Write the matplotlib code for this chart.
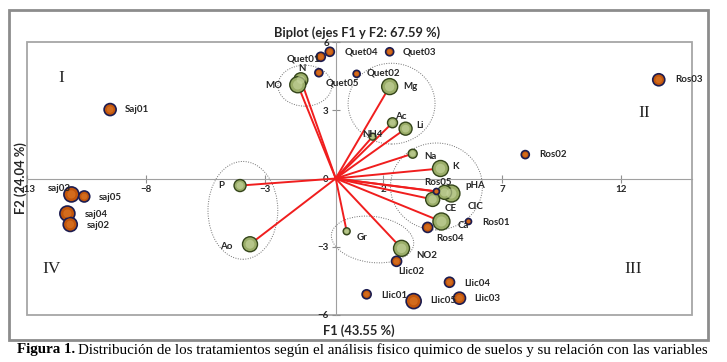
import numpy as np
import matplotlib
matplotlib.use("Agg")
import matplotlib.pyplot as plt
from matplotlib.patches import Ellipse, Rectangle

# observations (treatments)
obs_names = ['Saj01', 'saj03', 'saj05', 'saj04', 'saj02',
             'Quet01', 'Quet04', 'Quet03', 'Quet05', 'Quet02',
             'Ros03', 'Ros02', 'Ros05', 'Ros01', 'Ros04',
             'Llic02', 'Llic01', 'Llic05', 'Llic04', 'Llic03']
obs_f1 = [-9.50, -11.13, -10.59, -11.30, -11.18,
          -0.63, -0.25, 2.27, -0.71, 0.88,
          13.60, 7.98, 4.24, 5.59, 3.87,
          2.56, 1.30, 3.28, 4.79, 5.21]
obs_f2 = [3.03, -0.70, -0.79, -1.54, -2.02,
          5.35, 5.57, 5.57, 4.65, 4.60,
          4.34, 1.05, -0.57, -1.89, -2.15,
          -3.64, -5.09, -5.39, -4.56, -5.26]

# variables
var_names = ['N', 'MO', 'Mg', 'Ac', 'Li', 'NH4', 'Na', 'K',
             'pHA', 'CIC', 'CE', 'Ca', 'P', 'Ao', 'Gr', 'NO2']
var_f1 = [-1.47, -1.60, 2.27, 2.39, 2.94, 1.55, 3.24, 4.41,
          4.87, 4.58, 4.08, 4.45, -4.03, -3.61, 0.46, 2.77]
var_f2 = [4.34, 4.12, 4.04, 2.45, 2.19, 1.84, 1.09, 0.44,
          -0.66, -0.61, -0.92, -1.89, -0.31, -2.89, -2.32, -3.07]

x_ticks = [-13, -8, -3, 2, 7, 12]
y_ticks = [-6, -3, 0, 3, 6]

# marker diameters (px)
obs_d = [12, 15, 11, 15, 14, 9, 9, 8, 8, 7, 12, 8, 6, 6, 10, 10, 9, 15, 10, 12]
var_d = [14, 16, 16, 10, 13, 7, 9, 16, 17, 14, 14, 17, 12, 15, 7, 16]

# label offsets (px)
obs_off = {'Saj01': (15, 0), 'saj03': (-24, 6), 'saj05': (15, -1), 'saj04': (17, -1),
           'saj02': (17, -1), 'Quet01': (-34, -2), 'Quet04': (15, 0), 'Quet03': (13, 0),
           'Quet05': (7, -10), 'Quet02': (10, 1), 'Ros03': (16, 0), 'Ros02': (14, 0),
           'Ros05': (-12, 9), 'Ros01': (14, -1), 'Ros04': (9, -11), 'Llic02': (2, -10),
           'Llic01': (15, -1), 'Llic05': (17, 1), 'Llic04': (15, -1), 'Llic03': (15, 0)}
var_off = {'N': (-3, 11), 'MO': (-32, -1), 'Mg': (14, 0), 'Ac': (3, 6), 'Li': (11, 3),
           'NH4': (-10, 2), 'Na': (12, -3), 'K': (12, 2), 'pHA': (14, 8),
           'CIC': (23, -14), 'CE': (12, -9), 'Ca': (16, -4), 'P': (-22, 0),
           'Ao': (-30, -2), 'Gr': (10, -6), 'NO2': (15, -7)}

plt.rcParams['font.family'] = ['Lato', 'DejaVu Sans']
txt_col = '#262626'

fig = plt.figure(figsize=(7.27, 3.62), dpi=100)
ax = fig.add_axes([27 / 727, 47 / 362, 665 / 727, 273 / 362])
ax.set_xlim(-13, 15)
ax.set_ylim(-6, 6)

for s in ['top', 'right']:
    ax.spines[s].set_visible(False)
ax.spines['left'].set_position('zero')
ax.spines['bottom'].set_position('zero')
ax.spines['left'].set_color('#a0a0a0')
ax.spines['bottom'].set_color('#a0a0a0')
ax.add_patch(Rectangle((0, 0), 1, 1, transform=ax.transAxes, fill=False,
                       edgecolor='#a6a6a6', lw=1.3, clip_on=False, zorder=1))
ax.set_xticks(x_ticks)
ax.set_yticks(y_ticks)
ax.tick_params(direction='inout', length=6, color='#909090', labelsize=7,
               labelcolor=txt_col, pad=2)
for lab in ax.get_xticklabels() + ax.get_yticklabels():
    lab.set_fontweight('bold')

# ellipses
ell = [((-1.30, 4.08), 2.27, 1.80, 0), ((2.35, 3.29), 3.66, 3.55, 0),
       ((4.24, -0.35), 3.87, 3.82, 0), ((-3.91, -1.40), 2.94, 4.30, 0),
       ((1.55, -2.68), 3.49, 2.02, -8)]
for c, w, h, a in ell:
    ax.add_patch(Ellipse(c, w, h, angle=a, fill=False, ls=(0, (1, 1.5)),
                         edgecolor='#707070', lw=0.7, zorder=2))

# vectors
for x, y in zip(var_f1, var_f2):
    ax.plot([0, x], [0, y], color='#f01e1e', lw=1.4, zorder=3)

to_s = lambda d: (np.array(d) / 1.389) ** 2
ax.scatter(var_f1, var_f2, s=to_s(var_d), c='#9aad68', edgecolors='#34451a',
           linewidths=1.0, zorder=4)
ax.scatter(var_f1, var_f2, s=to_s(var_d) * 0.35, c='#c8d6a0', alpha=0.6,
           linewidths=0, zorder=5)
ax.scatter(obs_f1, obs_f2, s=to_s(obs_d), c='#c2560c', edgecolors='#1c1c50',
           linewidths=1.2, zorder=4)
ax.scatter(obs_f1, obs_f2, s=to_s(obs_d) * 0.3, c='#e07a2a', alpha=0.6,
           linewidths=0, zorder=5)

for n, x, y in zip(obs_names, obs_f1, obs_f2):
    ax.annotate(n, (x, y), xytext=obs_off[n], textcoords='offset pixels',
                fontsize=7, fontweight='bold', color=txt_col,
                ha='left', va='center', zorder=6, annotation_clip=False)
for n, x, y in zip(var_names, var_f1, var_f2):
    ax.annotate(n, (x, y), xytext=var_off[n], textcoords='offset pixels',
                fontsize=7, fontweight='bold', color=txt_col,
                ha='left', va='center', zorder=6, annotation_clip=False)

# quadrant numerals
for t, x, y in [('I', -11.55, 4.43), ('II', 12.98, 2.89),
                ('IV', -11.97, -3.99), ('III', 12.52, -3.99)]:
    ax.text(x, y, t, fontsize=12.5, family='Liberation Serif', ha='center',
            va='center', color='#222222')

fig.text(357 / 727, 1 - 33 / 362, 'Biplot (ejes F1 y F2: 67.59 %)', fontsize=9.3,
         fontweight='bold', color=txt_col, ha='center', va='center')
fig.text(359 / 727, 1 - 331 / 362, 'F1 (43.55 %)', fontsize=9.3,
         fontweight='bold', color=txt_col, ha='center', va='center')
fig.text(21 / 727, 1 - 178 / 362, 'F2 (24.04 %)', fontsize=9.3, rotation=90,
         fontweight='bold', color=txt_col, ha='center', va='center')

fig.add_artist(Rectangle((9 / 727, 22 / 362), 699 / 727, 330 / 362,
                         transform=fig.transFigure, fill=False,
                         edgecolor='#8c8c8c', lw=2))

t1 = fig.text(17 / 727, 1 - 350 / 362, 'Figura 1.', fontsize=10.8,
              family='Liberation Serif', fontweight='bold', va='center')
r = fig.canvas.get_renderer()
bb = t1.get_window_extent(r)
fig.text(bb.x1 / 727 + 3 / 727, 1 - 350 / 362,
         'Distribución de los tratamientos según el análisis fisico quimico de suelos y su relación con las variables',
         fontsize=10.8, family='Liberation Serif', va='center')

fig.savefig('out.png', dpi=100)
